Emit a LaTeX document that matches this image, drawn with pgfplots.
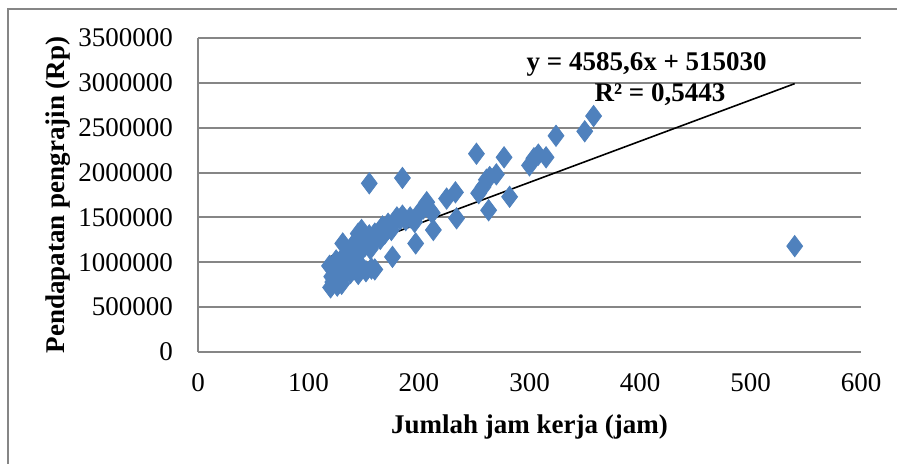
\documentclass[border=0pt]{standalone}
\usepackage{fontspec}
\setmainfont{Liberation Serif}
\usepackage{pgfplots}
\pgfplotsset{compat=1.18}

\definecolor{ptblue}{RGB}{79,129,189}
\definecolor{gridgray}{RGB}{134,134,134}

\begin{document}
\begin{tikzpicture}[font=\fontsize{13.5}{16}\selectfont]
% frame of the chart area
\useasboundingbox (-99pt,-56pt) rectangle (349.5pt,176pt);
\draw[gridgray, line width=0.6pt] (-95pt,-56pt) -- (-95pt,171.5pt) -- (349.5pt,171.5pt);

\begin{axis}[
  at={(0,0)}, anchor=origin,
  scale only axis,
  width=331.5pt, height=157pt,
  xmin=0, xmax=600,
  ymin=0, ymax=3500000,
  xtick={0,100,...,600},
  ytick={0,500000,...,3500000},
  scaled y ticks=false,
  /pgf/number format/.cd, fixed, precision=0, set thousands separator={}, assume math mode=true,
  /pgfplots/.cd,
  ymajorgrids,
  grid style={gridgray, line width=1pt},
  axis line style={gridgray, line width=1pt},
  axis x line*=bottom,
  axis y line*=left,
  x axis line style={draw=none},
  major tick length=0pt,
  xticklabel style={yshift=-7pt},
  yticklabel style={xshift=-9pt},
  xlabel={\textbf{Jumlah jam kerja (jam)}},
  ylabel={\textbf{Pendapatan pengrajin (Rp)}},
  xlabel style={yshift=-5pt},
  ylabel style={yshift=-3pt},
  clip=false,
]
\addplot[only marks, mark=diamond*, mark size=5.3pt, mark options={fill=ptblue, draw=ptblue}] coordinates {
  (120,720000) (122,780000) (121,840000) (119,960000) (124,900000)
  (127,820000) (130,760000) (133,860000) (128,1000000) (135,950000)
  (138,880000) (141,920000) (145,870000) (148,950000) (152,900000)
  (157,930000) (160,920000) (131,1210000) (134,1100000) (137,1050000)
  (140,1150000) (143,1240000) (145,1320000) (148,1360000) (150,1280000)
  (153,1220000) (155,1300000) (158,1250000) (160,1320000) (162,1270000)
  (165,1350000) (167,1400000) (170,1380000) (172,1430000) (175,1360000)
  (178,1450000) (180,1500000) (183,1480000) (185,1520000) (188,1470000)
  (192,1500000) (196,1450000) (200,1550000) (204,1600000) (207,1670000)
  (210,1580000) (212,1550000) (213,1360000) (197,1210000) (176,1060000)
  (155,1880000) (185,1940000) (225,1710000) (233,1780000) (234,1490000)
  (252,2210000) (254,1770000) (258,1840000) (261,1920000) (264,1950000)
  (270,1980000) (263,1580000) (277,2170000) (282,1730000) (300,2080000)
  (304,2160000) (308,2200000) (315,2170000) (324,2410000) (350,2460000)
  (358,2630000) (540,1180000)
  (125,1020000) (129,930000) (132,1050000) (136,1000000) (126,740000)
  (139,1080000) (143,1010000) (147,1120000) (151,1180000) (156,1150000)
  (165,1260000) (169,1320000)
};
\addplot[black, line width=0.8pt, mark=none] coordinates {(120,1065302) (540,2991254)};
\node[font=\fontsize{13.5}{16}\selectfont\bfseries] at (axis cs:406,3210000) {y = 4585,6x + 515030};
\node[font=\fontsize{13.5}{16}\selectfont\bfseries] at (axis cs:418,2870000) {R² = 0,5443};
\end{axis}
\end{tikzpicture}
\end{document}
